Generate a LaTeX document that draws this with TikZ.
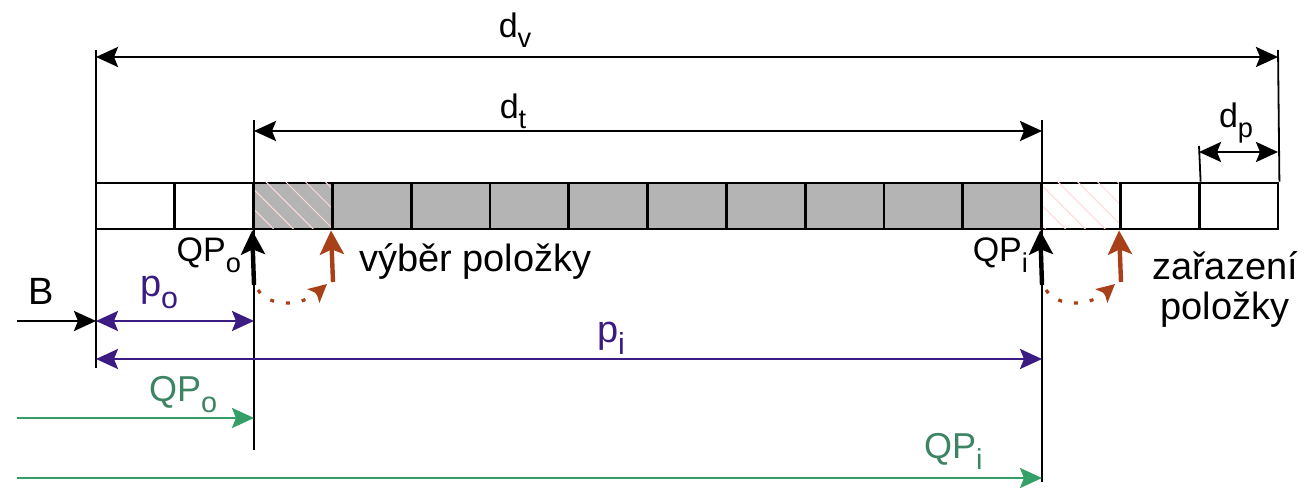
\documentclass[tikz,border=0pt]{standalone}
\usepackage{graphicx}
\usepackage{fontspec}
\setmainfont{Liberation Sans}
\usetikzlibrary{arrows.meta,patterns.meta}
\definecolor{cellgray}{HTML}{B4B4B4}
\definecolor{ptrviolet}{HTML}{3A1C82}
\definecolor{qpgreen}{HTML}{34A068}
\definecolor{qptext}{HTML}{3C8462}
\definecolor{movebrown}{HTML}{A8401A}
\newcommand{\lowidx}[1]{\raisebox{-0.3em}{\scalebox{0.8}{#1}}}

\begin{document}
\begin{tikzpicture}[x=0.5pt,y=-0.5pt,>={Stealth[length=11pt,width=10pt,inset=2pt]},font=\fontsize{19}{21}\selectfont]
    \tikzstyle{cell} = [draw, shape=rectangle, minimum height=23pt, minimum width=39.4pt, inner sep=0pt, line width=1.4pt, node distance=39.4pt]
    \tikzstyle{used} = [fill=cellgray]
    \tikzstyle{hatch} = [postaction={pattern={Lines[angle=-45,distance=7pt,line width=0.5pt]}, pattern color=red!15}]
    \tikzstyle{ext} = [line width=0.9pt]
    \tikzstyle{dim} = [<->, line width=1.4pt]
    \tikzstyle{dimlabel} = [inner sep=0pt, font=\fontsize{17}{19}\selectfont]
    \tikzstyle{ptr} = [line width=1.3pt, ptrviolet]
    \tikzstyle{qp} = [->, line width=1.3pt, qpgreen]
    \tikzstyle{pointer} = [->, >={Stealth[length=12pt,width=12pt,inset=2.5pt]}, line width=2.2pt]
    \tikzstyle{move} = [pointer, movebrown]
    \tikzstyle{swing} = [->, >={Stealth[length=9pt,width=9pt,inset=2pt]}, movebrown, line width=1.6pt, dash pattern=on 2pt off 6pt]
    \useasboundingbox (0,0) rectangle (1304,490);

    %Creating the queue cells
    \node [cell] (cell_1) at (135.4,206) {};
    \node [cell, right of=cell_1] (cell_2) {};
    \node [cell, used, hatch, right of=cell_2] (cell_3) {};
    \node [cell, used, right of=cell_3] (cell_4) {};
    \node [cell, used, right of=cell_4] (cell_5) {};
    \node [cell, used, right of=cell_5] (cell_6) {};
    \node [cell, used, right of=cell_6] (cell_7) {};
    \node [cell, used, right of=cell_7] (cell_8) {};
    \node [cell, used, right of=cell_8] (cell_9) {};
    \node [cell, used, right of=cell_9] (cell_10) {};
    \node [cell, used, right of=cell_10] (cell_11) {};
    \node [cell, used, right of=cell_11] (cell_12) {};
    \node [cell, hatch, right of=cell_12] (cell_13) {};
    \node [cell, right of=cell_13] (cell_14) {};
    \node [cell, right of=cell_14] (cell_15) {};

    %Coordinates of the measures
    \coordinate (ext_b_top) at (96,50);
    \coordinate (ext_b_bot) at (96,368);
    \coordinate (ext_v_top) at (1278,50);
    \coordinate (ext_o_top) at (254,120);
    \coordinate (ext_o_bot) at (254,450);
    \coordinate (ext_i_top) at (1042,120);
    \coordinate (ext_i_bot) at (1042,482);
    \coordinate (ext_p_top) at (1199,146);
    \coordinate (dv_a) at (96,57);
    \coordinate (dv_b) at (1278,57);
    \coordinate (dt_a) at (254,131);
    \coordinate (dt_b) at (1042,131);
    \coordinate (dp_a) at (1199,152);
    \coordinate (dp_b) at (1278,152);
    \coordinate (b_start) at (17,321);
    \coordinate (base_pt) at (96,321);
    \coordinate (qpo_pt) at (254,321);
    \coordinate (pi_a) at (96,359);
    \coordinate (pi_b) at (1042,359);
    \coordinate (go_start) at (17,418);
    \coordinate (go_end) at (254,418);
    \coordinate (gi_start) at (17,478);
    \coordinate (gi_end) at (1042,478);
    \coordinate (qpo_foot) at (254,285);
    \coordinate (qpi_foot) at (1042,285);
    \coordinate (sel_foot) at (333,282);
    \coordinate (ins_foot) at (1121,282);
    \coordinate (sel_from) at (258,290);
    \coordinate (sel_to) at (327,284);
    \coordinate (ins_from) at (1046,290);
    \coordinate (ins_to) at (1115,284);

    %Labels
    \node [dimlabel] (dv_label) at (515,30) {d\lowidx{v}};
    \node [dimlabel] (dt_label) at (513,111) {d\lowidx{t}};
    \node [dimlabel] (dp_label) at (1236,123) {d\lowidx{p}};
    \node [anchor=base east, font=\fontsize{17}{19}\selectfont] (qpo_label) at (248,262) {QP\lowidx{o}};
    \node [anchor=base east, font=\fontsize{17}{19}\selectfont] (qpi_label) at (1035,262) {QP\lowidx{i}};
    \node [anchor=base west] (sel_label) at (352,272) {výběr položky};
    \node [anchor=base] (ins_label_a) at (1225,280) {zařazení};
    \node [anchor=base] (ins_label_b) at (1225,320) {položky};
    \node [anchor=base] (b_label) at (41,305) {B};
    \node [anchor=base west, ptrviolet] (po_label) at (133,297) {p\lowidx{o}};
    \node [anchor=base west, ptrviolet] (pi_label) at (590,343) {p\lowidx{i}};
    \node [anchor=base west, qptext, font=\fontsize{18}{20}\selectfont] (go_label) at (142,402) {QP\lowidx{o}};
    \node [anchor=base west, qptext, font=\fontsize{18}{20}\selectfont] (gi_label) at (917,459) {QP\lowidx{i}};

    %Conecting lines and arrows
    \draw[ext] (ext_b_top) -- (ext_b_bot);
    \draw[ext] (ext_v_top) -- (cell_15.north east);
    \draw[ext] (ext_o_top) -- (ext_o_bot);
    \draw[ext] (ext_i_top) -- (ext_i_bot);
    \draw[ext] (ext_p_top) -- (cell_14.north east);
    \draw[dim] (dv_a) -- (dv_b);
    \draw[dim] (dt_a) -- (dt_b);
    \draw[dim] (dp_a) -- (dp_b);

    \draw[pointer] (qpo_foot) -- (cell_3.south west);
    \draw[pointer] (qpi_foot) -- (cell_13.south west);
    \draw[move] (sel_foot) -- (cell_4.south west);
    \draw[move] (ins_foot) -- (cell_14.south west);
    \draw[swing] (sel_from) .. controls +(12,18) and +(-25,22) .. (sel_to);
    \draw[swing] (ins_from) .. controls +(12,18) and +(-25,22) .. (ins_to);

    \draw[->, line width=1.3pt] (b_start) -- (base_pt);
    \draw[ptr, <->] (base_pt) -- (qpo_pt);
    \draw[ptr, <->] (pi_a) -- (pi_b);
    \draw[qp] (go_start) -- (go_end);
    \draw[qp] (gi_start) -- (gi_end);
\end{tikzpicture}
\end{document}
